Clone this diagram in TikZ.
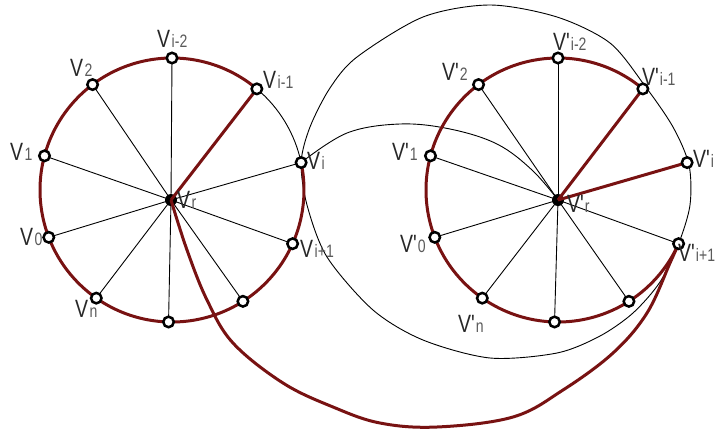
\documentclass[tikz,border=0pt]{standalone}
\usepackage{fontspec}
\newfontfamily\labfont[FakeStretch=0.78]{Liberation Sans}
\definecolor{dred}{RGB}{120,18,18}
\definecolor{labV}{RGB}{40,40,40}
\definecolor{labS}{RGB}{90,90,90}
\newcommand\VV[1]{{\fontsize{25}{25}\selectfont\color{labV}V}\kern1.5pt{\fontsize{18}{18}\selectfont\color{labS}#1}}
\newcommand\VP[1]{{\fontsize{25}{25}\selectfont\color{labV}V\char39}\kern1pt{\fontsize{18}{18}\selectfont\color{labS}#1}}
\tikzset{
  thinline/.style={draw=black, line width=0.9pt},
  redline/.style={draw=dred, line width=3pt},
  vtx/.style={circle, draw=black, line width=2.5pt, fill=white, inner sep=0pt, minimum size=10.5pt},
  hub/.style={circle, fill=black, inner sep=0pt, minimum size=12pt},
  lab/.style={inner sep=0pt, anchor=base west, font=\labfont}
}
\begin{document}
\begin{tikzpicture}[x=1pt,y=1pt]
\useasboundingbox (0,0) rectangle (723,-432);
\coordinate (cL) at (172,-190);
\coordinate (cR) at (558,-190);
\coordinate (vr) at (171,-200);
\coordinate (vR) at (558,-200);
\foreach \nm/\a in {im2/90, two/127, im1/50, one/165, i/12, zero/201, ip1/-24, n/235, b/268.5, br/-57.5} {
  \path (cL) ++(\a:132) coordinate (L\nm);
  \path (cR) ++(\a:132) coordinate (R\nm);
}
% thin spokes
\foreach \nm in {im2,two,one,i,zero,ip1,n,b,br} \draw[thinline] (vr) -- (L\nm);
\foreach \nm in {im2,two,one,zero,ip1,n,b,br} \draw[thinline] (vR) -- (R\nm);
% thin arcs
\draw[thinline] (Li) arc[start angle=12, end angle=50, radius=132];
\draw[thinline] plot[smooth cycle, tension=0.5] coordinates {
  (Li) (310,-127) (330,-88) (357,-57) (423,-17) (490,-5) (557,-17) (610,-43)
  (645,-86) (673,-127) (689,-165) (690,-205) (Rip1) (660,-282) (633,-313)
  (600,-336) (557,-353) (490,-358) (423,-340) (373,-310) (327,-257) (307,-205)};
\draw[thinline] plot[smooth, tension=0.6] coordinates {
  (Li) (347,-133) (400,-124) (450,-129) (497,-144) (532,-170) (vR)};
% red arcs
\draw[redline] (Lim1) arc[start angle=50, end angle=372, radius=132];
\draw[redline] (Rim1) arc[start angle=50, end angle=336, radius=132];
% hubs
\node[hub] (hubL) at (vr) {};
\node[hub] (hubR) at (vR) {};
% red spokes
\draw[redline] (vr) -- (Lim1);
\draw[redline] (vR) -- (Rim1);
\draw[redline] (vR) -- (Ri);
% red long curve
\draw[redline] plot[smooth, tension=0.6] coordinates {
  (vr) (187,-250) (207,-300) (233,-343) (283,-383) (333,-407) (380,-423) (437,-427)
  (513,-417) (563,-390) (613,-353) (647,-313) (670,-263) (Rip1)};
% vertices
\foreach \nm in {im2,two,im1,one,i,zero,ip1,n,b,br} {
  \node[vtx] (nL\nm) at (L\nm) {};
  \node[vtx] (nR\nm) at (R\nm) {};
}
% labels left
\node[lab] (tLim2) at (157,-47) {\VV{i-2}};
\node[lab] (tLtwo) at (70,-76) {\VV{2}};
\node[lab] (tLim1) at (263,-88) {\VV{i-1}};
\node[lab] (tLone) at (10,-160) {\VV{1}};
\node[lab] (tLi) at (307,-169) {\VV{i}};
\node[lab] (tLzero) at (20,-245) {\VV{0}};
\node[lab] (tLip1) at (300,-257) {\VV{i+1}};
\node[lab] (tLn) at (75,-317) {\VV{n}};
\node[lab] (tLr) at (177,-208) {\VV{r}};
% labels right
\node[lab] (tRim2) at (553,-50) {\VP{i-2}};
\node[lab] (tRtwo) at (442,-80) {\VP{2}};
\node[lab] (tRim1) at (642,-85) {\VP{i-1}};
\node[lab] (tRone) at (392,-160) {\VP{1}};
\node[lab] (tRi) at (693,-167) {\VP{i}};
\node[lab] (tRzero) at (400,-252) {\VP{0}};
\node[lab] (tRip1) at (678,-261) {\VP{i+1}};
\node[lab] (tRn) at (458,-332) {\VP{n}};
\node[lab] (tRr) at (567,-212) {\VP{r}};
\end{tikzpicture}
\end{document}
